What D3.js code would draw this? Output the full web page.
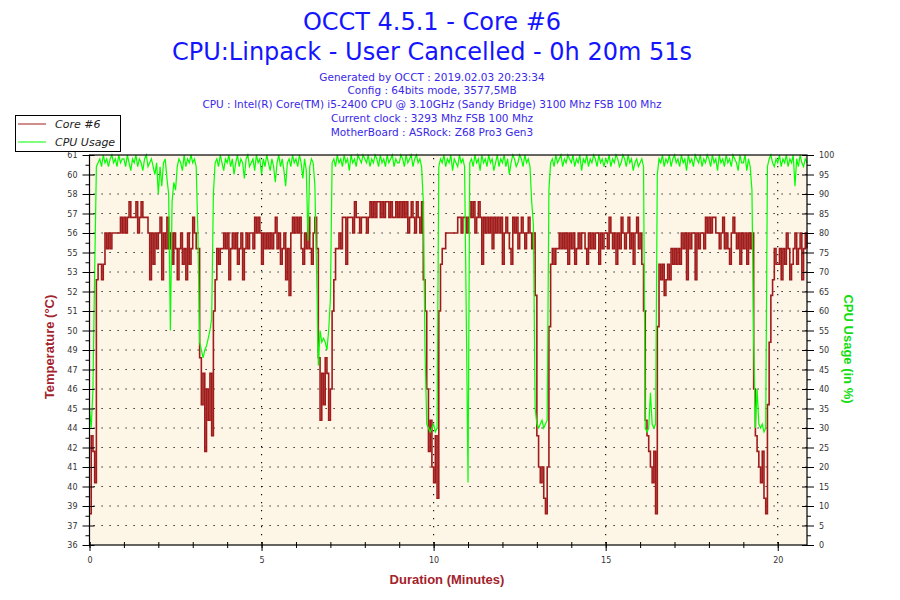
<!DOCTYPE html>
<html>
<head>
<meta charset="utf-8">
<script src="https://cdn.jsdelivr.net/npm/d3@7"></script>
<style>
  body { margin: 0; background: #fff; }
  svg { display: block; font-family: "DejaVu Sans", Verdana, sans-serif; }
</style>
</head>
<body>
<div id="chart"></div>
<script>
// OCCT monitoring export: Core #6 temperature + CPU usage, one sample every 3 s
const sampleStep = 0.05; // minutes
const durationMinutes = 20.85;

// Core #6 temperature (°C), one row per minute
const coreTemp = [
  38, 43, 42, 40, 53, 54, 54, 53, 54, 56, 55, 56, 55, 56, 56, 56, 56, 56, 57, 56,
  57, 56, 57, 58, 57, 57, 57, 58, 56, 57, 58, 57, 57, 57, 56, 53, 56, 54, 56, 55,
  56, 57, 53, 56, 55, 57, 55, 56, 54, 56, 55, 53, 55, 56, 54, 55, 53, 56, 54, 55,
  57, 56, 55, 55, 48, 45, 47, 42, 46, 44, 47, 43, 51, 53, 55, 54, 55, 55, 56, 55,
  56, 53, 55, 56, 55, 56, 54, 55, 56, 53, 55, 56, 55, 56, 56, 55, 57, 56, 57, 56,
  54, 56, 55, 56, 55, 56, 55, 56, 57, 55, 56, 54, 55, 56, 53, 55, 52, 56, 57, 56,
  57, 56, 57, 55, 54, 56, 55, 57, 55, 54, 56, 57, 55, 48, 44, 47, 45, 48, 47, 44,
  46, 51, 53, 55, 55, 56, 55, 57, 57, 54, 57, 57, 57, 56, 58, 57, 57, 56, 57, 57,
  57, 56, 57, 58, 57, 58, 57, 58, 58, 57, 58, 57, 58, 58, 57, 58, 57, 57, 58, 57,
  58, 57, 58, 57, 58, 56, 57, 58, 57, 56, 58, 57, 56, 58, 53, 51, 46, 42, 44, 41,
  40, 43, 39, 51, 54, 55, 55, 56, 56, 56, 56, 56, 56, 56, 57, 57, 56, 57, 57, 56,
  57, 58, 57, 58, 56, 57, 58, 57, 54, 57, 56, 57, 56, 57, 55, 57, 56, 57, 56, 57,
  54, 56, 57, 56, 55, 54, 57, 56, 57, 55, 56, 57, 56, 55, 56, 57, 56, 55, 56, 52,
  43, 41, 40, 41, 39, 38, 41, 50, 54, 55, 54, 55, 55, 56, 55, 56, 55, 56, 54, 56,
  55, 56, 54, 55, 56, 55, 56, 56, 55, 54, 56, 55, 56, 55, 56, 56, 54, 56, 55, 56,
  56, 55, 57, 56, 55, 56, 54, 56, 55, 57, 56, 55, 56, 57, 55, 56, 54, 56, 57, 55,
  56, 54, 51, 44, 43, 42, 41, 40, 42, 38, 50, 54, 53, 54, 52, 53, 54, 53, 55, 54,
  55, 54, 55, 54, 56, 55, 56, 53, 56, 55, 56, 56, 53, 56, 55, 56, 56, 55, 57, 56,
  57, 56, 57, 57, 56, 56, 55, 56, 57, 55, 56, 55, 54, 56, 57, 56, 55, 56, 54, 56,
  55, 56, 54, 56, 55, 56, 46, 43, 42, 41, 40, 42, 39, 38, 45, 49, 52, 53, 55, 54,
  54, 55, 53, 55, 54, 56, 55, 53, 54, 55, 56, 54, 55, 56, 53, 55, 56, 55
];

// CPU usage (%), same sampling
const cpuUsage = [
  35, 30, 40, 70, 97, 98, 99, 97, 100, 98, 99, 97, 99, 100, 98, 99, 97, 100, 98, 99,
  99, 97, 100, 98, 96, 99, 98, 100, 97, 99, 98, 96, 99, 100, 97, 98, 99, 97, 95, 98,
  90, 97, 92, 98, 99, 94, 90, 55, 88, 93, 91, 97, 99, 98, 96, 100, 97, 99, 98, 100,
  98, 99, 97, 80, 52, 50, 48, 50, 51, 53, 55, 58, 90, 98, 99, 97, 100, 98, 96, 99,
  98, 100, 97, 99, 95, 98, 100, 97, 99, 98, 94, 99, 100, 97, 98, 99, 96, 100, 98, 99,
  95, 99, 97, 100, 98, 96, 99, 97, 93, 98, 100, 97, 99, 96, 92, 98, 99, 97, 100, 98,
  99, 97, 100, 98, 94, 99, 96, 78, 97, 99, 98, 92, 70, 46, 55, 52, 53, 52, 50, 55,
  63, 98, 99, 97, 100, 98, 99, 97, 100, 98, 99, 96, 100, 98, 99, 97, 100, 99, 98, 100,
  99, 98, 100, 97, 99, 98, 100, 99, 97, 100, 98, 99, 97, 100, 98, 99, 100, 97, 99, 98,
  98, 100, 99, 97, 100, 98, 99, 100, 97, 99, 100, 98, 99, 97, 88, 50, 31, 30, 29, 30,
  31, 29, 30, 97, 99, 98, 100, 97, 99, 98, 100, 96, 99, 98, 97, 100, 98, 99, 97, 58,
  16, 98, 99, 97, 100, 98, 99, 96, 100, 98, 99, 97, 100, 98, 99, 96, 98, 100, 97, 99,
  98, 100, 97, 99, 95, 98, 100, 99, 97, 98, 100, 99, 97, 100, 98, 99, 97, 88, 82, 35,
  31, 30, 31, 32, 30, 31, 32, 91, 98, 99, 97, 100, 98, 99, 100, 97, 99, 98, 100, 99,
  98, 100, 97, 99, 98, 100, 96, 99, 98, 100, 97, 99, 98, 100, 99, 97, 100, 98, 99, 97,
  99, 98, 100, 97, 99, 98, 100, 99, 97, 98, 100, 99, 97, 100, 98, 99, 96, 98, 99, 97,
  98, 99, 97, 30, 29, 30, 39, 31, 30, 31, 95, 99, 98, 100, 97, 99, 98, 100, 97, 99,
  100, 98, 99, 97, 100, 98, 99, 96, 100, 98, 99, 97, 100, 99, 98, 100, 97, 99, 98, 100,
  99, 97, 100, 98, 99, 96, 100, 98, 99, 97, 100, 98, 99, 97, 100, 99, 98, 96, 100, 98,
  98, 100, 96, 99, 97, 91, 52, 30, 40, 31, 30, 31, 29, 30, 97, 99, 100, 98, 97, 99,
  98, 100, 97, 99, 98, 100, 97, 99, 98, 100, 92, 99, 97, 100, 98, 97, 99, 98
];

// Left axis labels as OCCT prints them (rounded values of 21 evenly spaced ticks)
const tempTickLabels = ["36", "37", "39", "40", "41", "42", "44", "45", "46", "47", "49",
  "50", "51", "52", "53", "55", "56", "57", "58", "60", "61"];
const tempDomain = [36, 61];
const cpuTicks = d3.range(0, 101, 5);
const minuteTicks = d3.range(0, 21, 1);
const labelledMinutes = [0, 5, 10, 15, 20];

const titleLines = ["OCCT 4.5.1 - Core #6", "CPU:Linpack - User Cancelled - 0h 20m 51s"];
const infoLines = [
  "Generated by OCCT : 2019.02.03 20:23:34",
  "Config : 64bits mode, 3577,5MB",
  "CPU : Intel(R) Core(TM) i5-2400 CPU @ 3.10GHz (Sandy Bridge) 3100 Mhz FSB 100 Mhz",
  "Current clock : 3293 Mhz FSB 100 Mhz",
  "MotherBoard : ASRock: Z68 Pro3 Gen3"
];
const seriesNames = ["Core #6", "CPU Usage"];

const width = 900, height = 600;
const plot = { left: 89.5, right: 807, top: 155, bottom: 545 };
const colors = { temp: "#a01b1b", cpu: "#00ff00", title: "#1414ff", info: "#3a28e8", bg: "#fdf5e6" };

const svg = d3.select("#chart").append("svg")
    .attr("width", width)
    .attr("height", height);

const x = d3.scaleLinear().domain([0, durationMinutes]).range([plot.left, plot.right]);
const yTemp = d3.scaleLinear().domain(tempDomain).range([plot.bottom, plot.top]);
const yCpu = d3.scaleLinear().domain([0, 100]).range([plot.bottom, plot.top]);

const tempTicks = tempTickLabels.map((_, i) => tempDomain[0] + i * (tempDomain[1] - tempDomain[0]) / (tempTickLabels.length - 1));
const tempMinor = tempTicks.slice(1).map((t, i) => (t + tempTicks[i]) / 2);
const cpuMinor = cpuTicks.slice(1).map(v => v - 2.5);

// Plot background
svg.append("rect")
    .attr("x", plot.left).attr("y", plot.top)
    .attr("width", plot.right - plot.left).attr("height", plot.bottom - plot.top)
    .attr("fill", colors.bg);

// Dotted grid
const grid = svg.append("g").attr("stroke", "#000").attr("stroke-width", 1.1).attr("stroke-dasharray", "1.2,6.8");
grid.selectAll("line.h").data(tempTicks.slice(1, -1)).enter().append("line")
    .attr("x1", plot.left + 4).attr("x2", plot.right)
    .attr("y1", d => yTemp(d)).attr("y2", d => yTemp(d));
grid.selectAll("line.v").data(labelledMinutes.slice(1)).enter().append("line")
    .attr("x1", d => x(d)).attr("x2", d => x(d))
    .attr("y1", plot.top + 3).attr("y2", plot.bottom);

// Series
const tempLine = d3.line()
    .x((d, i) => x(i * sampleStep))
    .y(d => yTemp(d))
    .curve(d3.curveStepAfter);
const cpuLine = d3.line()
    .x((d, i) => x(i * sampleStep))
    .y(d => yCpu(d));

svg.append("path").datum(coreTemp)
    .attr("d", tempLine)
    .attr("fill", "none").attr("stroke", colors.temp).attr("stroke-width", 1.6);
svg.append("path").datum(cpuUsage)
    .attr("d", cpuLine)
    .attr("fill", "none").attr("stroke", colors.cpu).attr("stroke-width", 1.2);

// Frame
svg.append("rect")
    .attr("x", plot.left).attr("y", plot.top)
    .attr("width", plot.right - plot.left).attr("height", plot.bottom - plot.top)
    .attr("fill", "none").attr("stroke", "#000").attr("stroke-width", 1.2);

function styleAxis(g) {
    g.select(".domain").remove();
    g.selectAll(".tick line").attr("stroke", "#000");
    g.selectAll(".tick text").attr("fill", "#333").attr("font-size", 8).attr("font-family", "DejaVu Sans, sans-serif");
}

// Left axis (temperature)
svg.append("g")
    .attr("transform", `translate(${plot.left},0)`)
    .call(d3.axisLeft(yTemp).tickValues(tempTicks).tickFormat((d, i) => tempTickLabels[i]).tickSizeInner(7).tickSizeOuter(0).tickPadding(5))
    .call(styleAxis)
    .call(g => g.selectAll(".tick line").attr("x1", 5));
svg.append("g")
    .attr("transform", `translate(${plot.left},0)`)
    .call(d3.axisLeft(yTemp).tickValues(tempMinor).tickFormat("").tickSizeInner(4).tickSizeOuter(0))
    .call(styleAxis);

// Right axis (CPU usage)
svg.append("g")
    .attr("transform", `translate(${plot.right},0)`)
    .call(d3.axisRight(yCpu).tickValues(cpuTicks).tickSizeInner(7).tickSizeOuter(0).tickPadding(5))
    .call(styleAxis)
    .call(g => g.selectAll(".tick line").attr("x1", -5));
svg.append("g")
    .attr("transform", `translate(${plot.right},0)`)
    .call(d3.axisRight(yCpu).tickValues(cpuMinor).tickFormat("").tickSizeInner(4).tickSizeOuter(0))
    .call(styleAxis);

// Bottom axis (minutes)
svg.append("g")
    .attr("transform", `translate(0,${plot.bottom})`)
    .call(d3.axisBottom(x).tickValues(minuteTicks).tickFormat("").tickSizeInner(3).tickSizeOuter(0))
    .call(styleAxis)
    .call(g => g.selectAll(".tick line").attr("y1", -3));
svg.append("g")
    .attr("transform", `translate(0,${plot.bottom})`)
    .call(d3.axisBottom(x).tickValues(labelledMinutes).tickFormat(d3.format("d")).tickSizeInner(6).tickSizeOuter(0).tickPadding(6))
    .call(styleAxis)
    .call(g => g.selectAll(".tick line").attr("y1", -3));

// Titles
svg.append("g").selectAll("text").data(titleLines).enter().append("text")
    .attr("x", 432).attr("y", (d, i) => 30 + i * 30)
    .attr("text-anchor", "middle")
    .attr("font-size", 24)
    .attr("fill", colors.title)
    .text(d => d);
svg.append("g").selectAll("text").data(infoLines).enter().append("text")
    .attr("x", 432).attr("y", (d, i) => 80.5 + i * 13.8)
    .attr("text-anchor", "middle")
    .attr("font-size", 10.5)
    .attr("fill", colors.info)
    .text(d => d);

// Axis titles
svg.append("text")
    .attr("x", 447).attr("y", 584)
    .attr("text-anchor", "middle")
    .attr("font-family", "Liberation Sans, Arial, sans-serif")
    .attr("font-weight", "bold").attr("font-size", 13)
    .attr("fill", "#a3222b")
    .text("Duration (Minutes)");
svg.append("text")
    .attr("transform", "translate(54,347) rotate(-90)")
    .attr("text-anchor", "middle")
    .attr("font-family", "Liberation Sans, Arial, sans-serif")
    .attr("font-weight", "bold").attr("font-size", 13)
    .attr("fill", "#a3222b")
    .text("Temperature (°C)");
svg.append("text")
    .attr("transform", "translate(844,349) rotate(90)")
    .attr("text-anchor", "middle")
    .attr("font-family", "Liberation Sans, Arial, sans-serif")
    .attr("font-weight", "bold").attr("font-size", 13)
    .attr("fill", "#11dd11")
    .text("CPU Usage (in %)");

// Legend
const legend = svg.append("g");
legend.append("rect")
    .attr("x", 15.5).attr("y", 115.5).attr("width", 105).attr("height", 36)
    .attr("fill", "#fff").attr("stroke", "#000").attr("stroke-width", 1);
const legendItems = legend.selectAll("g.item")
    .data(seriesNames.map((name, i) => ({ name, color: i === 0 ? colors.temp : colors.cpu })))
    .enter().append("g")
    .attr("transform", (d, i) => `translate(0,${124 + i * 18})`);
legendItems.append("line")
    .attr("x1", 18).attr("x2", 46)
    .attr("stroke", d => d.color).attr("stroke-width", 1);
legendItems.append("text")
    .attr("x", 55).attr("y", 4)
    .attr("font-size", 11).attr("font-style", "italic")
    .attr("fill", "#222")
    .text(d => d.name);
</script>
</body>
</html>
